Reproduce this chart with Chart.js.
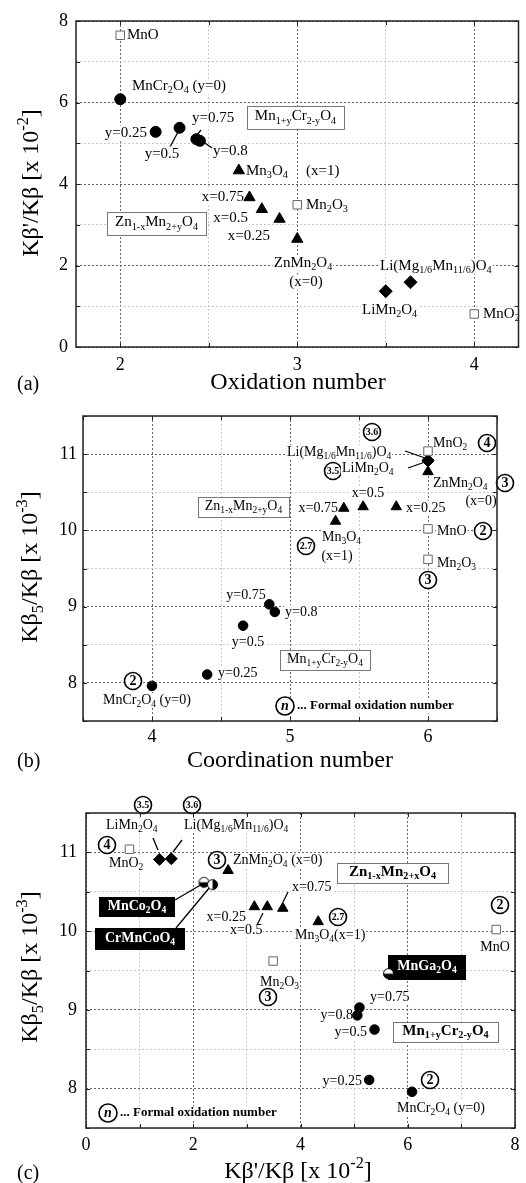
<!DOCTYPE html>
<html>
<head>
<meta charset="utf-8">
<script src="https://cdn.jsdelivr.net/npm/chart.js@4.4.1/dist/chart.umd.min.js"></script>
<style>
html, body { margin: 0; padding: 0; background: #fff; }
#wrap { position: relative; width: 526px; height: 1183px; overflow: hidden; }
canvas { position: absolute; left: 0; }
</style>
</head>
<body>
<div id="wrap">
  <canvas id="chartA" width="526" height="395" style="top:0px"></canvas>
  <canvas id="chartB" width="526" height="390" style="top:395px"></canvas>
  <canvas id="chartC" width="526" height="398" style="top:785px"></canvas>
</div>
<script>
// ---- data ----

// Mn oxides (open squares): MnO, Mn2O3, MnO2
var oxideNames = ['MnO', 'Mn2O3', 'MnO2'];
var oxideOx = [2, 3, 4];
var oxideCN = [6, 6, 6];
var oxideKbP = [7.65, 3.49, 0.81];   // Kb'/Kb [x 10^-2]
var oxideKb5 = [10.02, 9.62, 11.04]; // Kb5/Kb [x 10^-3]

// Mn(1+y)Cr(2-y)O4, y = 0, 0.25, 0.5, 0.75, 0.8 (filled circles)
var crY = [0, 0.25, 0.5, 0.75, 0.8];
var crOx = [2.0, 2.2, 2.335, 2.43, 2.45];
var crCN = [4.0, 4.40, 4.66, 4.85, 4.89];
var crKbP = [6.08, 5.28, 5.38, 5.10, 5.06];
var crKb5 = [7.96, 8.11, 8.75, 9.03, 8.93];

// Zn(1-x)Mn(2+x)O4, x = 0, 0.25, 0.5, 0.75, 1 (filled triangles)
var znX = [0, 0.25, 0.5, 0.75, 1];
var znOx = [3.0, 2.90, 2.80, 2.73, 2.67];
var znCN = [6.0, 5.77, 5.53, 5.39, 5.33];
var znKbP = [2.65, 3.14, 3.38, 3.67, 4.33];
var znKb5 = [10.77, 10.31, 10.31, 10.29, 10.12];

// LiMn2O4, Li(Mg1/6Mn11/6)O4 (filled diamonds)
var liOx = [3.5, 3.64];
var liCN = [6, 6];
var liKbP = [1.37, 1.59];
var liKb5 = [10.91, 10.92];

// MnCo2O4, CrMnCoO4, MnGa2O4 (half filled circles, panel c only)
var mixNames = ['MnCo2O4', 'CrMnCoO4', 'MnGa2O4'];
var mixKbP = [2.20, 2.36, 5.64];
var mixKb5 = [10.62, 10.59, 9.46];

// tick labels
var aXLabels = [2, 3, 4];
var aYLabels = [0, 2, 4, 6, 8];
var bXLabels = [4, 5, 6];
var bYLabels = [8, 9, 10, 11];
var cXLabels = [0, 2, 4, 6, 8];
var cYLabels = [8, 9, 10, 11];

// ---- helpers ----
var SERIF = '"Liberation Serif", "Times New Roman", serif';

function pts(xs, ys) {
  return xs.map(function (x, i) { return { x: x, y: ys[i] }; });
}

function fontStr(size, bold, italic) {
  return (italic ? 'italic ' : '') + (bold ? 'bold ' : '') + size + 'px ' + SERIF;
}

// "Mn_{2}O_{3}" -> subscripts, "10^{-2}" -> superscripts
function parseRich(s) {
  var out = [], re = /([_^])\{([^}]*)\}/g, last = 0, m;
  while ((m = re.exec(s))) {
    if (m.index > last) out.push({ t: s.slice(last, m.index), k: 0 });
    out.push({ t: m[2], k: m[1] === '_' ? 1 : 2 });
    last = re.lastIndex;
  }
  if (last < s.length) out.push({ t: s.slice(last), k: 0 });
  return out;
}

function richWidth(ctx, s, o) {
  var w = 0;
  parseRich(s).forEach(function (p) {
    ctx.font = fontStr(p.k ? o.size * 0.68 : o.size, o.bold, o.italic);
    w += ctx.measureText(p.t).width;
  });
  return w;
}

function drawRich(ctx, s, x, y, o) {
  var w = richWidth(ctx, s, o);
  var x0 = o.align === 'c' ? x - w / 2 : (o.align === 'r' ? x - w : x);
  ctx.textBaseline = 'middle';
  ctx.textAlign = 'left';
  ctx.fillStyle = o.color || '#000';
  parseRich(s).forEach(function (p) {
    var sz = p.k ? o.size * 0.68 : o.size;
    ctx.font = fontStr(sz, o.bold, o.italic);
    var dy = p.k === 1 ? o.size * 0.32 : (p.k === 2 ? -o.size * 0.36 : 0);
    ctx.fillText(p.t, x0, y + dy);
    x0 += ctx.measureText(p.t).width;
  });
  return w;
}

// annotation builders (page pixel positions)
function T(s, x, y, al, opt) { return Object.assign({ k: 'text', s: s, x: x, y: y, al: al || 'l' }, opt || {}); }
function L(x1, y1, x2, y2) { return { k: 'line', x1: x1, y1: y1, x2: x2, y2: y2 }; }
function C(s, x, y, opt) { return Object.assign({ k: 'circ', s: s, x: x, y: y }, opt || {}); }
function B(s, x1, y1, x2, y2, opt) { return Object.assign({ k: 'box', s: s, x1: x1, y1: y1, x2: x2, y2: y2 }, opt || {}); }
function K(s, x1, y1, x2, y2) { return { k: 'blk', s: s, x1: x1, y1: y1, x2: x2, y2: y2 }; }

function drawNotes(ctx, notes, top, defSize) {
  notes.forEach(function (n) {
    var size = n.size || defSize;
    if (n.k === 'text') {
      var o = { size: size, align: n.al, bold: n.b, italic: n.i, color: n.col };
      var w = richWidth(ctx, n.s, o);
      var x0 = n.al === 'c' ? n.x - w / 2 : (n.al === 'r' ? n.x - w : n.x);
      ctx.fillStyle = '#fff';
      ctx.fillRect(x0 - 1, n.y - top - size * 0.5, w + 2, size * 1.05);
      drawRich(ctx, n.s, n.x, n.y - top, o);
    } else if (n.k === 'line') {
      ctx.strokeStyle = '#000';
      ctx.lineWidth = 1.3;
      ctx.beginPath();
      ctx.moveTo(n.x1, n.y1 - top);
      ctx.lineTo(n.x2, n.y2 - top);
      ctx.stroke();
    } else if (n.k === 'circ') {
      var r = n.r || 8.5;
      ctx.beginPath();
      ctx.arc(n.x, n.y - top, r, 0, Math.PI * 2);
      ctx.fillStyle = '#fff';
      ctx.fill();
      ctx.strokeStyle = '#000';
      ctx.lineWidth = 1.6;
      ctx.stroke();
      var fs = n.s.length > 1 ? 10 : 14;
      drawRich(ctx, n.s, n.x, n.y - top + 0.5, { size: fs, align: 'c', bold: true, italic: n.i });
    } else if (n.k === 'box' || n.k === 'blk') {
      var black = n.k === 'blk';
      ctx.fillStyle = black ? '#000' : '#fff';
      ctx.fillRect(n.x1, n.y1 - top, n.x2 - n.x1, n.y2 - n.y1);
      if (!black) {
        ctx.strokeStyle = '#777';
        ctx.lineWidth = 1;
        ctx.strokeRect(n.x1 + 0.5, n.y1 - top + 0.5, n.x2 - n.x1, n.y2 - n.y1);
      }
      drawRich(ctx, n.s, (n.x1 + n.x2) / 2, (n.y1 + n.y2) / 2 - top - 1,
        { size: size, align: 'c', bold: black || n.b, color: black ? '#fff' : '#000' });
    }
  });
}

// half filled circle marker images
function halfDot(side) {
  var c = document.createElement('canvas');
  c.width = 13; c.height = 13;
  var g = c.getContext('2d');
  g.beginPath(); g.arc(6.5, 6.5, 5, 0, Math.PI * 2); g.fillStyle = '#fff'; g.fill();
  g.beginPath();
  if (side === 'bottom') g.arc(6.5, 6.5, 5, 0, Math.PI);
  else g.arc(6.5, 6.5, 5, -Math.PI / 2, Math.PI / 2);
  g.closePath(); g.fillStyle = '#000'; g.fill();
  g.beginPath(); g.arc(6.5, 6.5, 5, 0, Math.PI * 2); g.strokeStyle = '#000'; g.lineWidth = 1; g.stroke();
  return c;
}

function sqSet(data) {
  return { data: data, pointStyle: 'rect', pointRadius: 6, backgroundColor: '#fff', borderColor: '#666', borderWidth: 1 };
}
function dotSet(data, style, r) {
  return { data: data, pointStyle: style, pointRadius: r, backgroundColor: '#000', borderColor: '#000', borderWidth: 1 };
}

function isOn(list, v) {
  return list.some(function (t) { return Math.abs(t - v) < 1e-6; });
}

// grid positions: every step inside [min, max]
function gridTicks(min, max, step) {
  var out = [];
  for (var v = Math.ceil(min / step - 1e-9) * step; v <= max + 1e-9; v += step) {
    out.push({ value: Math.round(v * 1000) / 1000 });
  }
  return out;
}

function panelPlugin(p) {
  return {
    id: 'panel' + p.name,
    beforeDatasetsDraw: function (chart) {
      var ctx = chart.ctx;
      ctx.save();
      drawNotes(ctx, p.notes, p.top, p.noteSize);
      ctx.restore();
    },
    afterDraw: function (chart) {
      var ctx = chart.ctx, a = chart.chartArea, xs = chart.scales.x, ys = chart.scales.y;
      ctx.save();
      // small inward ticks on all four sides
      ctx.strokeStyle = '#222';
      ctx.lineWidth = 1;
      ctx.beginPath();
      xs.ticks.forEach(function (t) {
        var px = Math.round(xs.getPixelForValue(t.value)) + 0.5;
        ctx.moveTo(px, a.bottom); ctx.lineTo(px, a.bottom - 4);
        ctx.moveTo(px, a.top); ctx.lineTo(px, a.top + 4);
      });
      ys.ticks.forEach(function (t) {
        var py = Math.round(ys.getPixelForValue(t.value)) + 0.5;
        ctx.moveTo(a.left, py); ctx.lineTo(a.left + 4, py);
        ctx.moveTo(a.right, py); ctx.lineTo(a.right - 4, py);
      });
      ctx.stroke();
      // frame
      ctx.strokeStyle = '#222';
      ctx.lineWidth = 1.5;
      ctx.strokeRect(a.left, a.top, a.right - a.left, a.bottom - a.top);
      // axis titles and panel letter
      drawRich(ctx, p.xTitle, p.xTitleAt[0], p.xTitleAt[1] - p.top, { size: 24, align: 'c' });
      drawRich(ctx, p.letter, 17, p.letterY - p.top, { size: 20, align: 'l' });
      ctx.translate(p.yTitleAt[0], p.yTitleAt[1] - p.top);
      ctx.rotate(-Math.PI / 2);
      drawRich(ctx, p.yTitle, 0, 0, { size: 24, align: 'c' });
      ctx.restore();
    }
  };
}

function makePanel(p) {
  return new Chart(document.getElementById(p.canvas), {
    type: 'scatter',
    data: { datasets: p.datasets },
    options: {
      responsive: false,
      animation: false,
      layout: { padding: { top: p.padTop, right: p.padRight, left: 0, bottom: 0 } },
      plugins: { legend: { display: false }, tooltip: { enabled: false } },
      scales: {
        x: {
          type: 'linear', min: p.x[0], max: p.x[1],
          afterBuildTicks: function (s) { s.ticks = gridTicks(p.x[0], p.x[1], p.x[2]); },
          afterFit: function (s) { s.height = p.xH; },
          ticks: {
            autoSkip: false, maxRotation: 0, padding: p.xPad, color: '#000',
            font: { family: SERIF, size: 18 },
            callback: function (v) { return isOn(p.xLabels, v) ? String(v) : ''; }
          },
          grid: { color: function (c) { return c.tick && isOn(p.xMajor, c.tick.value) ? '#666' : '#c8c8c8'; }, lineWidth: 1, drawTicks: false },
          border: { display: false, dash: [2, 2] }
        },
        y: {
          type: 'linear', min: p.y[0], max: p.y[1],
          afterBuildTicks: function (s) { s.ticks = gridTicks(p.y[0], p.y[1], p.y[2]); },
          afterFit: function (s) { s.width = p.yW; },
          ticks: {
            autoSkip: false, padding: p.yPad, color: '#000',
            font: { family: SERIF, size: 18 },
            callback: function (v) { return isOn(p.yLabels, v) ? String(v) : ''; }
          },
          grid: { color: function (c) { return c.tick && isOn(p.yMajor, c.tick.value) ? '#666' : '#c8c8c8'; }, lineWidth: 1, drawTicks: false },
          border: { display: false, dash: [2, 2] }
        }
      }
    },
    plugins: [panelPlugin(p)]
  });
}

// ---- panel (a): Kb'/Kb vs oxidation number ----
makePanel({
  name: 'A', canvas: 'chartA', top: 0, padTop: 21, padRight: 6, yW: 76, xH: 48, xPad: 7, yPad: 8,
  x: [1.75, 4.25, 0.5], y: [0, 8, 1],
  xLabels: aXLabels, yLabels: aYLabels, xMajor: [2, 3, 4], yMajor: [0, 2, 4, 6, 8],
  xTitle: 'Oxidation number', xTitleAt: [298, 383],
  yTitle: "K\u03b2'/K\u03b2 [x 10^{-2}]", yTitleAt: [32, 183],
  letter: '(a)', letterY: 385, noteSize: 15,
  datasets: [
    sqSet(pts(oxideOx, oxideKbP)),
    dotSet(pts(crOx, crKbP), 'circle', 5.5),
    dotSet(pts(znOx, znKbP), 'triangle', 6.5),
    dotSet(pts(liOx, liKbP), 'rectRot', 6.5)
  ],
  notes: [
    T('MnO', 127, 35),
    T('MnCr_{2}O_{4} (y=0)', 132, 86),
    T('y=0.25', 147, 133, 'r'),
    L(170, 147, 178, 132),
    T('y=0.5', 162, 154, 'c'),
    L(201, 130, 196, 136),
    T('y=0.75', 192, 118),
    L(202, 141, 212, 148),
    T('y=0.8', 213, 151),
    B('Mn_{1+y}Cr_{2-y}O_{4}', 247, 106, 344, 129),
    T('Mn_{3}O_{4}', 246, 171),
    T('(x=1)', 306, 171),
    T('x=0.75', 244, 197, 'r'),
    T('x=0.5', 248, 218, 'r'),
    T('x=0.25', 270, 236, 'r'),
    B('Zn_{1-x}Mn_{2+y}O_{4}', 107, 212, 206, 235),
    T('Mn_{2}O_{3}', 306, 205),
    T('ZnMn_{2}O_{4}', 303, 263, 'c'),
    T('(x=0)', 306, 282, 'c'),
    T('Li(Mg_{1/6}Mn_{11/6})O_{4}', 380, 266),
    T('LiMn_{2}O_{4}', 362, 310),
    T('MnO_{2}', 483, 314)
  ]
});

// ---- panel (b): Kb5/Kb vs coordination number ----
makePanel({
  name: 'B', canvas: 'chartB', top: 395, padTop: 21, padRight: 29, yW: 83, xH: 64, xPad: 5, yPad: 6,
  x: [3.5, 6.5, 0.5], y: [7.5, 11.5, 0.5],
  xLabels: bXLabels, yLabels: bYLabels, xMajor: [4, 5, 6], yMajor: [8, 9, 10, 11],
  xTitle: 'Coordination number', xTitleAt: [290, 761],
  yTitle: 'K\u03b2_{5}/K\u03b2 [x 10^{-3}]', yTitleAt: [31, 567],
  letter: '(b)', letterY: 762, noteSize: 14,
  datasets: [
    sqSet(pts(oxideCN, oxideKb5)),
    dotSet(pts(crCN, crKb5), 'circle', 4.8),
    dotSet(pts(znCN, znKb5), 'triangle', 6),
    dotSet(pts(liCN, liKb5), 'rectRot', 6)
  ],
  notes: [
    C('3.6', 372, 432),
    T('Li(Mg_{1/6}Mn_{11/6})O_{4}', 287, 452),
    L(405, 451, 425, 458),
    C('3.5', 333, 471),
    T('LiMn_{2}O_{4}', 342, 468),
    L(408, 468, 425, 462),
    T('MnO_{2}', 433, 443),
    C('4', 487, 443),
    T('ZnMn_{2}O_{4}', 433, 483),
    C('3', 505, 483),
    T('(x=0)', 481, 501, 'c'),
    T('x=0.5', 368, 493, 'c'),
    T('x=0.75', 338, 508, 'r'),
    T('x=0.25', 406, 508),
    B('Zn_{1-x}Mn_{2+y}O_{4}', 198, 497, 289, 517),
    C('2.7', 306, 546),
    T('Mn_{3}O_{4}', 322, 537),
    T('(x=1)', 337, 556, 'c'),
    T('MnO', 437, 531),
    C('2', 483, 531),
    T('Mn_{2}O_{3}', 437, 563),
    C('3', 428, 580),
    T('y=0.75', 246, 595, 'c'),
    T('y=0.8', 285, 612),
    T('y=0.5', 248, 642, 'c'),
    T('y=0.25', 218, 673),
    B('Mn_{1+y}Cr_{2-y}O_{4}', 280, 650, 370, 670),
    C('2', 133, 681),
    T('MnCr_{2}O_{4} (y=0)', 103, 700),
    C('n', 285, 706, { i: true, r: 9 }),
    T('... Formal oxidation number', 297, 706, 'l', { b: true, size: 13 })
  ]
});

// ---- panel (c): Kb5/Kb vs Kb'/Kb ----
makePanel({
  name: 'C', canvas: 'chartC', top: 785, padTop: 28, padRight: 11, yW: 86, xH: 55, xPad: 6, yPad: 9,
  x: [0, 8, 1], y: [7.5, 11.5, 0.5],
  xLabels: cXLabels, yLabels: cYLabels, xMajor: [0, 2, 4, 6, 8], yMajor: [8, 9, 10, 11],
  xTitle: "K\u03b2'/K\u03b2 [x 10^{-2}]", xTitleAt: [298, 1172],
  yTitle: 'K\u03b2_{5}/K\u03b2 [x 10^{-3}]', yTitleAt: [31, 967],
  letter: '(c)', letterY: 1174, noteSize: 14,
  datasets: [
    sqSet(pts(oxideKbP, oxideKb5)),
    dotSet(pts(crKbP, crKb5), 'circle', 4.8),
    dotSet(pts(znKbP, znKb5), 'triangle', 6),
    dotSet(pts(liKbP, liKb5), 'rectRot', 6),
    { data: pts(mixKbP, mixKb5), pointStyle: [halfDot('bottom'), halfDot('right'), halfDot('bottom')], pointRadius: 6 }
  ],
  notes: [
    C('3.5', 143, 805),
    C('3.6', 192, 805),
    T('LiMn_{2}O_{4}', 106, 825),
    T('Li(Mg_{1/6}Mn_{11/6})O_{4}', 184, 825),
    L(153, 838, 158, 850),
    L(182, 840, 173, 852),
    C('4', 107, 845),
    T('MnO_{2}', 109, 863),
    C('3', 217, 860),
    T('ZnMn_{2}O_{4} (x=0)', 233, 860),
    B('Zn_{1-x}Mn_{2+x}O_{4}', 337, 863, 448, 883, { b: true, size: 15 }),
    L(175, 900, 204, 883),
    K('MnCo_{2}O_{4}', 99, 897, 175, 917),
    L(176, 928, 210, 887),
    K('CrMnCoO_{4}', 95, 928, 185, 950),
    T('x=0.75', 292, 887),
    L(288, 892, 283, 902),
    T('x=0.25', 246, 917, 'r'),
    T('x=0.5', 230, 930),
    L(263, 913, 257, 925),
    C('2.7', 338, 917),
    T('Mn_{3}O_{4}(x=1)', 295, 935),
    T('Mn_{2}O_{3}', 260, 982),
    C('3', 268, 997),
    C('2', 500, 905),
    T('MnO', 495, 947, 'c'),
    K('MnGa_{2}O_{4}', 388, 955, 466, 980),
    T('y=0.75', 370, 997),
    T('y=0.8', 353, 1015, 'r'),
    T('y=0.5', 367, 1032, 'r'),
    B('Mn_{1+y}Cr_{2-y}O_{4}', 393, 1022, 498, 1042, { b: true, size: 15 }),
    T('y=0.25', 362, 1081, 'r'),
    C('2', 430, 1080),
    T('MnCr_{2}O_{4} (y=0)', 397, 1108),
    C('n', 108, 1113, { i: true, r: 9 }),
    T('... Formal oxidation number', 120, 1113, 'l', { b: true, size: 13 })
  ]
});
</script>
</body>
</html>
